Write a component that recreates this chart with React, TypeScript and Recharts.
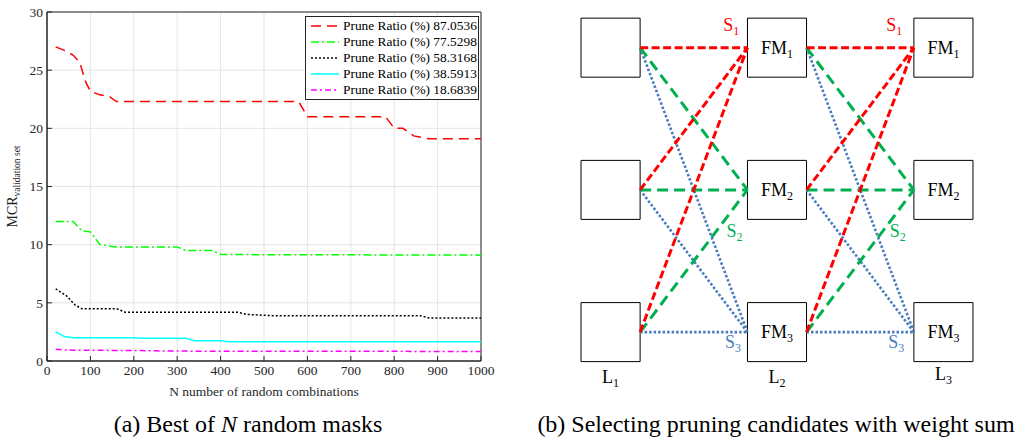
import React from 'react'
import {
  LineChart,
  Line,
  XAxis,
  YAxis,
  CartesianGrid,
  ReferenceArea,
  ReferenceLine,
  ReferenceDot,
  Legend,
  ScatterChart,
  Scatter,
} from 'recharts'

const FONT = '"Liberation Serif", "Times New Roman", serif'
const INK = '#262626'

// ---- left panel: best of N random masks ----
const xTicks = [0, 100, 200, 300, 400, 500, 600, 700, 800, 900, 1000]
const yTicks = [0, 5, 10, 15, 20, 25, 30]

const ratioLabels = ['87.0536', '77.5298', '58.3168', '38.5913', '18.6839']

const redN = [20, 40, 60, 75, 90, 100, 120, 145, 160, 580, 600, 780, 800, 820, 845, 880, 1000]
const redMcr = [27.0, 26.7, 26.3, 25.7, 23.9, 23.2, 22.9, 22.7, 22.3, 22.3, 21.0, 21.0, 20.0, 20.0, 19.35, 19.1, 19.1]

const greenN = [20, 60, 80, 100, 122, 160, 300, 320, 380, 400, 1000]
const greenMcr = [12.0, 12.0, 11.2, 11.1, 10.0, 9.8, 9.8, 9.5, 9.5, 9.15, 9.1]

const blackN = [20, 45, 65, 80, 160, 180, 440, 460, 520, 860, 880, 1000]
const blackMcr = [6.2, 5.6, 4.8, 4.5, 4.5, 4.2, 4.2, 4.0, 3.9, 3.9, 3.7, 3.7]

const cyanN = [20, 40, 60, 200, 220, 320, 340, 400, 420, 1000]
const cyanMcr = [2.5, 2.1, 2.0, 2.0, 1.95, 1.95, 1.75, 1.75, 1.65, 1.65]

const magentaN = [20, 40, 60, 200, 260, 300, 1000]
const magentaMcr = [1.0, 0.95, 0.93, 0.9, 0.87, 0.85, 0.82]

const lineStyles = [
  { color: '#ff0000', dash: '10 6' },
  { color: '#00ff00', dash: '8 3 2 3' },
  { color: '#000000', dash: '2 2' },
  { color: '#00ffff', dash: undefined },
  { color: '#ff00ff', dash: '6 3 2 3' },
]

const series = [
  [redN, redMcr],
  [greenN, greenMcr],
  [blackN, blackMcr],
  [cyanN, cyanMcr],
  [magentaN, magentaMcr],
].map(([ns, vs], i) => ({
  name: `Prune Ratio (%) ${ratioLabels[i]}`,
  data: ns.map((n, j) => ({ n, mcr: vs[j] })),
  ...lineStyles[i],
}))

// ---- right panel: pruning candidate diagram ----
const layers = [1, 2, 3]
const rows = [1, 2, 3]
const layerNames = ['L1', 'L2', 'L3']
const setNames = ['S1', 'S2', 'S3']

const BOX_W = 0.1775
const BOX_H = 0.2075
const edgeStyles = [
  { color: '#ff0000', dash: '8 3.5', width: 3 },
  { color: '#00b050', dash: '11 6', width: 3 },
  { color: '#4a7cc0', dash: '2.5 2', width: 2.6 },
]
// where the S labels sit, per layer gap and target row
const setLabelPos = [
  [{ x: 1.725, y: 0.87 }, { x: 1.745, y: 2.32 }, { x: 1.735, y: 3.1 }],
  [{ x: 2.705, y: 0.87 }, { x: 2.725, y: 2.32 }, { x: 2.717, y: 3.1 }],
]
const layerLabelY = [3.345, 3.345, 3.325]

const nodes = layers.flatMap((l) => rows.map((r) => ({ x: l, y: r })))

const edges = layers.slice(0, -1).flatMap((l) =>
  rows.flatMap((src) => rows.map((tgt) => ({ l, src, tgt })))
).sort((a, b) => b.tgt - a.tgt)

function subText(main: string, sub: string, color: string, size: number, subSize: number, dy: number) {
  return (props: any) => {
    const vb = props.viewBox || {}
    const cx = (vb.x ?? vb.cx ?? 0) + (vb.width || 0) / 2
    const cy = (vb.y ?? vb.cy ?? 0) + (vb.height || 0) / 2
    return (
      <text x={cx} y={cy + dy} textAnchor="middle" fill={color} fontFamily={FONT} fontSize={size}>
        <tspan>{main}</tspan>
        <tspan fontSize={subSize} dy={4}>{sub}</tspan>
      </text>
    )
  }
}

function LegendBox() {
  return (
    <div
      style={{
        border: `1px solid ${INK}`,
        background: '#fff',
        padding: '1px 1px 1px 4px',
        fontFamily: FONT,
        fontSize: 13.4,
        color: '#000',
        lineHeight: '16px',
      }}
    >
      {series.map((s) => (
        <div key={s.name} style={{ display: 'flex', alignItems: 'center', whiteSpace: 'nowrap' }}>
          <svg width={30} height={10} style={{ marginRight: 3 }}>
            <line x1={1} y1={5} x2={29} y2={5} stroke={s.color} strokeWidth={1.5} strokeDasharray={s.dash} />
          </svg>
          {s.name}
        </div>
      ))}
    </div>
  )
}

function LeftChart() {
  return (
    <LineChart width={520} height={438} margin={{ top: 12, right: 39, bottom: 47, left: 7 }} style={{ fontFamily: FONT }}>
      <CartesianGrid stroke="#dedede" strokeWidth={0.8} />
      <XAxis
        type="number"
        dataKey="n"
        domain={[0, 1000]}
        ticks={xTicks}
        height={30}
        tickSize={-5}
        tickMargin={9}
        axisLine={{ stroke: INK }}
        tickLine={{ stroke: INK }}
        tick={{ fontSize: 13.5, fill: INK, fontFamily: FONT }}
        interval={0}
        label={{
          content: (p: any) => (
            <text x={p.viewBox.x + p.viewBox.width / 2} y={p.viewBox.y + 35} textAnchor="middle" fontSize={13.5} fill={INK} fontFamily={FONT}>
              N number of random combinations
            </text>
          ),
        }}
      />
      <XAxis xAxisId="top" orientation="top" type="number" domain={[0, 1000]} ticks={xTicks} height={0} tickSize={-5} tick={false} axisLine={{ stroke: INK }} tickLine={{ stroke: INK }} />
      <YAxis
        type="number"
        domain={[0, 30]}
        ticks={yTicks}
        width={40}
        tickSize={-5}
        tickMargin={9}
        axisLine={{ stroke: INK }}
        tickLine={{ stroke: INK }}
        tick={{ fontSize: 13.5, fill: INK, fontFamily: FONT }}
        interval={0}
        label={{
          content: (p: any) => {
            const cx = 17
            const cy = p.viewBox.y + p.viewBox.height / 2
            return (
              <text x={cx} y={cy} transform={`rotate(-90 ${cx} ${cy})`} textAnchor="middle" fontSize={14} fill={INK} fontFamily={FONT}>
                <tspan>MCR</tspan>
                <tspan fontSize={9.5} dy={3}>validation set</tspan>
              </text>
            )
          },
        }}
      />
      <YAxis yAxisId="right" orientation="right" type="number" domain={[0, 30]} ticks={yTicks} width={0} tickSize={-5} tick={false} axisLine={{ stroke: INK }} tickLine={{ stroke: INK }} />
      <ReferenceArea x1={0} x2={1000} y1={0} y2={30} fill="none" fillOpacity={0} stroke={INK} strokeWidth={1} />
      {series.map((s) => (
        <Line
          key={s.name}
          data={s.data}
          dataKey="mcr"
          name={s.name}
          type="linear"
          dot={false}
          stroke={s.color}
          strokeWidth={1.5}
          strokeDasharray={s.dash}
          isAnimationActive={false}
        />
      ))}
      <Legend
        layout="vertical"
        align="center"
        verticalAlign="middle"
        content={() => <LegendBox />}
        wrapperStyle={{ left: 305, top: 16, width: 'auto', height: 'auto' }}
      />
    </LineChart>
  )
}

function RightChart() {
  return (
    <ScatterChart width={466} height={384} margin={{ top: 0, right: 0, bottom: 0, left: 0 }}>
      <XAxis type="number" dataKey="x" domain={[0.6, 3.4]} hide allowDataOverflow />
      <YAxis type="number" dataKey="y" domain={[0.7, 3.4]} reversed hide allowDataOverflow />
      <Scatter data={nodes} fill="#000" fillOpacity={0} isAnimationActive={false} />
      {edges.map((e, i) => {
        const st = edgeStyles[e.tgt - 1]
        return (
          <ReferenceLine
            key={i}
            segment={[
              { x: e.l + BOX_W, y: e.src },
              { x: e.l + 1 - BOX_W, y: e.tgt },
            ]}
            stroke={st.color}
            strokeWidth={st.width}
            strokeDasharray={st.dash}
            ifOverflow="visible"
          />
        )
      })}
      {layers.flatMap((l) =>
        rows.map((r) => (
          <ReferenceArea
            key={`b${l}${r}`}
            x1={l - BOX_W}
            x2={l + BOX_W}
            y1={r - BOX_H}
            y2={r + BOX_H}
            fill="#fff"
            fillOpacity={l === 1 ? 0 : 1}
            stroke="#000"
            strokeWidth={1}
            ifOverflow="visible"
            label={l === 1 ? undefined : { content: subText('FM', String(r), '#000', 18, 12, 6) }}
          />
        ))
      )}
      {setLabelPos.flatMap((gap, g) =>
        gap.map((p, r) => (
          <ReferenceDot
            key={`s${g}${r}`}
            x={p.x}
            y={p.y}
            r={0}
            fill="none"
            stroke="none"
            ifOverflow="visible"
            label={{ content: subText(setNames[r][0], setNames[r][1], edgeStyles[r].color, 18, 12, 2) }}
          />
        ))
      )}
      {layers.map((l, i) => (
        <ReferenceDot
          key={`l${l}`}
          x={l}
          y={layerLabelY[i]}
          r={0}
          fill="none"
          stroke="none"
          ifOverflow="visible"
          label={{ content: subText(layerNames[i][0], layerNames[i][1], '#000', 18, 12, 2) }}
        />
      ))}
    </ScatterChart>
  )
}

export default function App() {
  return (
    <div style={{ position: 'absolute', left: 0, top: 0, width: 1015, height: 438, background: '#fff', overflow: 'hidden' }}>
      <div style={{ position: 'absolute', left: 0, top: 0 }}>
        <LeftChart />
      </div>
      <div style={{ position: 'absolute', left: 544, top: 5 }}>
        <RightChart />
      </div>
      <div style={{ position: 'absolute', left: 0, top: 411, width: 496, textAlign: 'center', fontFamily: FONT, fontSize: 24, color: '#000', whiteSpace: 'nowrap' }}>
        (a) Best of <i>N</i> random masks
      </div>
      <div style={{ position: 'absolute', left: 426, top: 411, width: 700, textAlign: 'center', fontFamily: FONT, fontSize: 24, color: '#000', whiteSpace: 'nowrap' }}>
        (b) Selecting pruning candidates with weight sum
      </div>
    </div>
  )
}
